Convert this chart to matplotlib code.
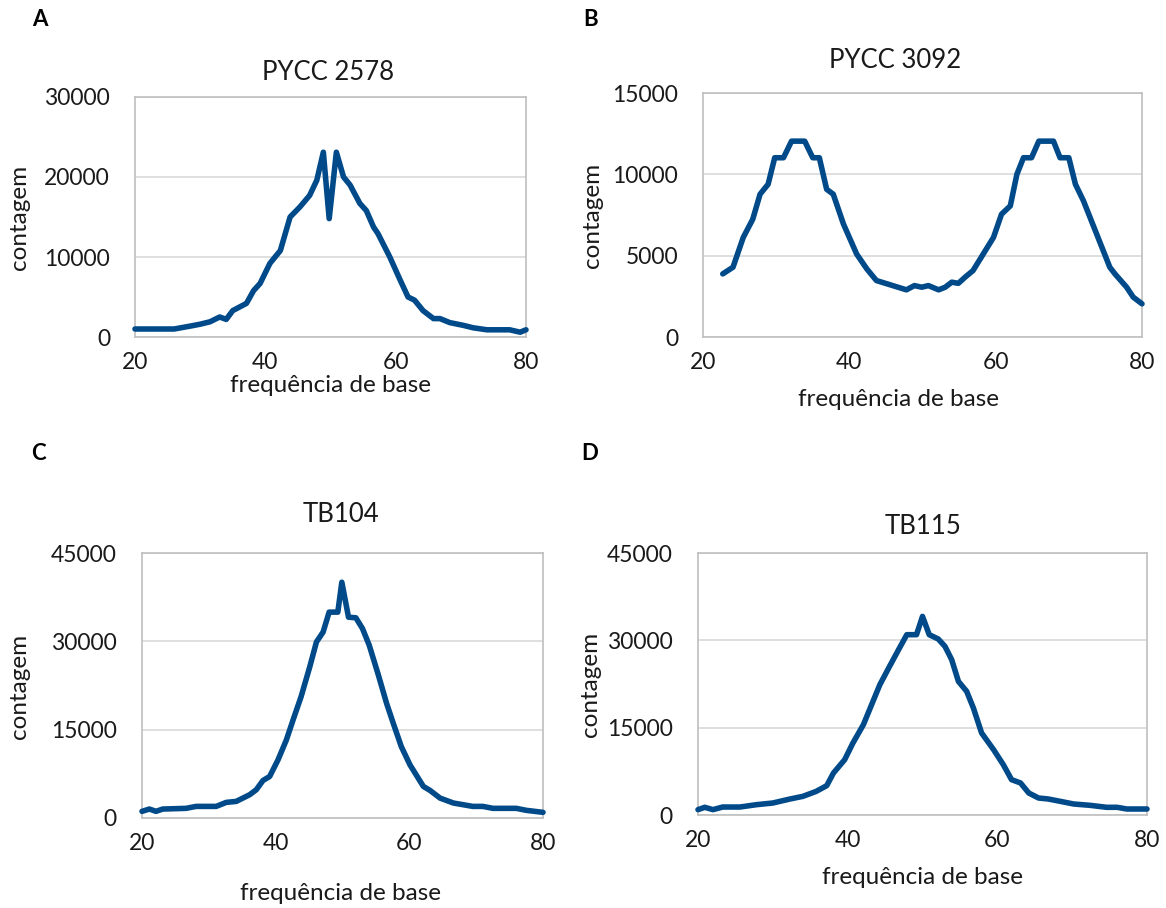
import matplotlib
matplotlib.use("Agg")
import matplotlib.pyplot as plt

plt.rcParams['font.family'] = ['Lato', 'DejaVu Sans']

# ---------------- data ----------------
titles = ["PYCC 2578", "PYCC 3092", "TB104", "TB115"]
letters = ["A", "B", "C", "D"]
xlabel_text = "frequência de base"
ylabel_text = "contagem"
xticks = [20, 40, 60, 80]

yticks_a = [0, 10000, 20000, 30000]
yticks_b = [0, 5000, 10000, 15000]
yticks_c = [0, 15000, 30000, 45000]
yticks_d = [0, 15000, 30000, 45000]

x_a = [20, 22, 24, 26, 28.4, 30, 31.5, 33, 34, 35, 37.1, 38.2, 39.2, 40.7, 42.3, 43.8,
       45.3, 46.8, 47.9, 48.9, 49.8, 50.9, 52, 53, 54.5, 55.5, 56.6, 57.3, 59.1, 60.7,
       61.9, 62.9, 64.2, 65.8, 66.8, 68.3, 70.4, 71.9, 74, 77.5, 79.1, 80]
y_a = [1000, 1000, 1000, 1000, 1350, 1600, 1900, 2500, 2200, 3300, 4200, 5800, 6700, 9200,
       10800, 15000, 16250, 17700, 19600, 23100, 14800, 23100, 20000, 19000, 16700, 15800,
       13750, 12900, 10000, 7100, 5000, 4600, 3300, 2300, 2300, 1800, 1450, 1150, 900, 900,
       600, 900]

x_b = [22.7, 24.1, 25.5, 26.8, 27.8, 28.9, 29.8, 31, 32.1, 33.9, 35, 35.9, 36.9, 37.8,
       39.2, 41, 42.4, 43.7, 45.5, 47.8, 48.9, 49.9, 50.8, 52.2, 53.1, 54, 54.9, 55.8,
       56.9, 58.3, 59.7, 60.8, 62, 62.9, 63.8, 64.9, 65.9, 67.9, 68.8, 70, 70.9, 72,
       73.8, 75.6, 76.3, 77.9, 78.8, 80]
y_b = [3880, 4290, 6120, 7240, 8780, 9390, 11020, 11020, 12040, 12040, 11020, 11020, 9080,
       8780, 6940, 5100, 4180, 3470, 3220, 2900, 3160, 3060, 3160, 2900, 3060, 3370, 3300,
       3670, 4080, 5100, 6120, 7550, 8060, 10000, 11020, 11020, 12040, 12040, 11020, 11020,
       9390, 8370, 6330, 4290, 3880, 3060, 2450, 2040]

x_c = [20, 21.1, 22.1, 23.1, 26.6, 28.1, 31.1, 32.6, 34.1, 36.1, 37.1, 38.1, 39.1, 40.35,
       41.6, 42.6, 43.8, 45.1, 46.1, 47.1, 48, 49.3, 49.9, 50.9, 52, 53, 54, 55.3, 56.6,
       57.6, 58.8, 60.1, 62.1, 63.1, 64.6, 66.6, 69.5, 71, 72.5, 76, 77.5, 80]
y_c = [1130, 1520, 1130, 1520, 1640, 1970, 1970, 2650, 2820, 3950, 4800, 6370, 7050, 9870,
       13250, 16640, 20590, 25660, 29890, 31580, 34960, 34960, 40040, 34100, 34000, 32150,
       29330, 24530, 19460, 16070, 12120, 9020, 5360, 4680, 3380, 2540, 1970, 1970, 1640,
       1640, 1300, 960]

x_d = [20, 20.9, 22, 23.3, 25.6, 27.8, 30, 32.3, 34, 35.8, 37.2, 38.1, 39.6, 40.7, 42.1,
       43.2, 44.3, 45.6, 46.8, 47.9, 49.2, 50, 50.9, 52.1, 53, 53.9, 54.8, 55.9, 56.8,
       57.9, 59.5, 60.8, 61.9, 63.1, 64.2, 65.5, 66.8, 68.4, 70.2, 72.4, 74.6, 76, 77.3, 80]
y_d = [920, 1320, 920, 1370, 1370, 1770, 2060, 2750, 3200, 4060, 5040, 7210, 9500, 12360,
       15510, 18950, 22380, 25530, 28390, 30970, 30970, 34110, 30970, 30230, 28970, 26680,
       22950, 21240, 18380, 14080, 11220, 8640, 6070, 5500, 3780, 2920, 2750, 2350, 1890,
       1660, 1320, 1320, 1030, 1030]

# ---------------- layout (pixels) ----------------
W, H = 1166, 908
LINE = '#004A8A'
GRID = '#D9D9D9'
SPINE = '#BFBFBF'
TXT = '#1A1A1A'

panels = [
    dict(x=x_a, y=y_a, yt=yticks_a, box=(135, 97, 526, 337), title=(328, 72),
         letter=(40, 20), xl=(330, 386), yl=(20, 217)),
    dict(x=x_b, y=y_b, yt=yticks_b, box=(703, 93, 1142, 337), title=(895, 60),
         letter=(591, 20), xl=(898, 400), yl=(592, 215)),
    dict(x=x_c, y=y_c, yt=yticks_c, box=(142, 553, 543, 818), title=(341, 515),
         letter=(38, 453), xl=(340, 893), yl=(20, 686)),
    dict(x=x_d, y=y_d, yt=yticks_d, box=(698, 553, 1147, 815), title=(923, 527),
         letter=(590, 453), xl=(922, 877), yl=(590, 684)),
]

fig = plt.figure(figsize=(W / 100, H / 100), dpi=100)
fig.patch.set_facecolor('white')

def fx(px):
    return px / W

def fy(py):
    return 1 - py / H

for i, p in enumerate(panels):
    l, t, r, b = p['box']
    ax = fig.add_axes([fx(l), fy(b), (r - l) / W, (b - t) / H])
    ax.plot(p['x'], p['y'], color=LINE, lw=4.0, solid_joinstyle='round',
            solid_capstyle='round', clip_on=False, zorder=3)
    ax.set_xlim(20, 80)
    ax.set_ylim(p['yt'][0], p['yt'][-1])
    ax.set_xticks(xticks)
    ax.set_yticks(p['yt'])
    ax.set_xticklabels([str(v) for v in xticks])
    ax.set_yticklabels([str(v) for v in p['yt']])
    ax.tick_params(axis='both', length=0, labelsize=16.5, labelcolor=TXT)
    ax.tick_params(axis='y', pad=18)
    ax.tick_params(axis='x', pad=11)
    ax.grid(axis='y', color=GRID, lw=1.2)
    ax.set_axisbelow(True)
    for s in ax.spines.values():
        s.set_color(SPINE)
        s.set_linewidth(1.2)
    fig.text(fx(p['title'][0]), fy(p['title'][1]), titles[i], ha='center', va='center',
             fontsize=18.5, color=TXT)
    fig.text(fx(p['letter'][0]), fy(p['letter'][1]), letters[i], ha='center', va='center',
             fontsize=16, fontweight='bold', color='black')
    ax.set_xlabel(xlabel_text, fontsize=17.5, color=TXT)
    ax.xaxis.set_label_coords(fx(p['xl'][0]), fy(p['xl'][1]), transform=fig.transFigure)
    ax.xaxis.label.set_va('center')
    ax.set_ylabel(ylabel_text, fontsize=17.5, color=TXT)
    ax.yaxis.set_label_coords(fx(p['yl'][0]), fy(p['yl'][1]), transform=fig.transFigure)
    ax.yaxis.label.set_va('center')

fig.savefig('out.png', dpi=100, facecolor='white')
